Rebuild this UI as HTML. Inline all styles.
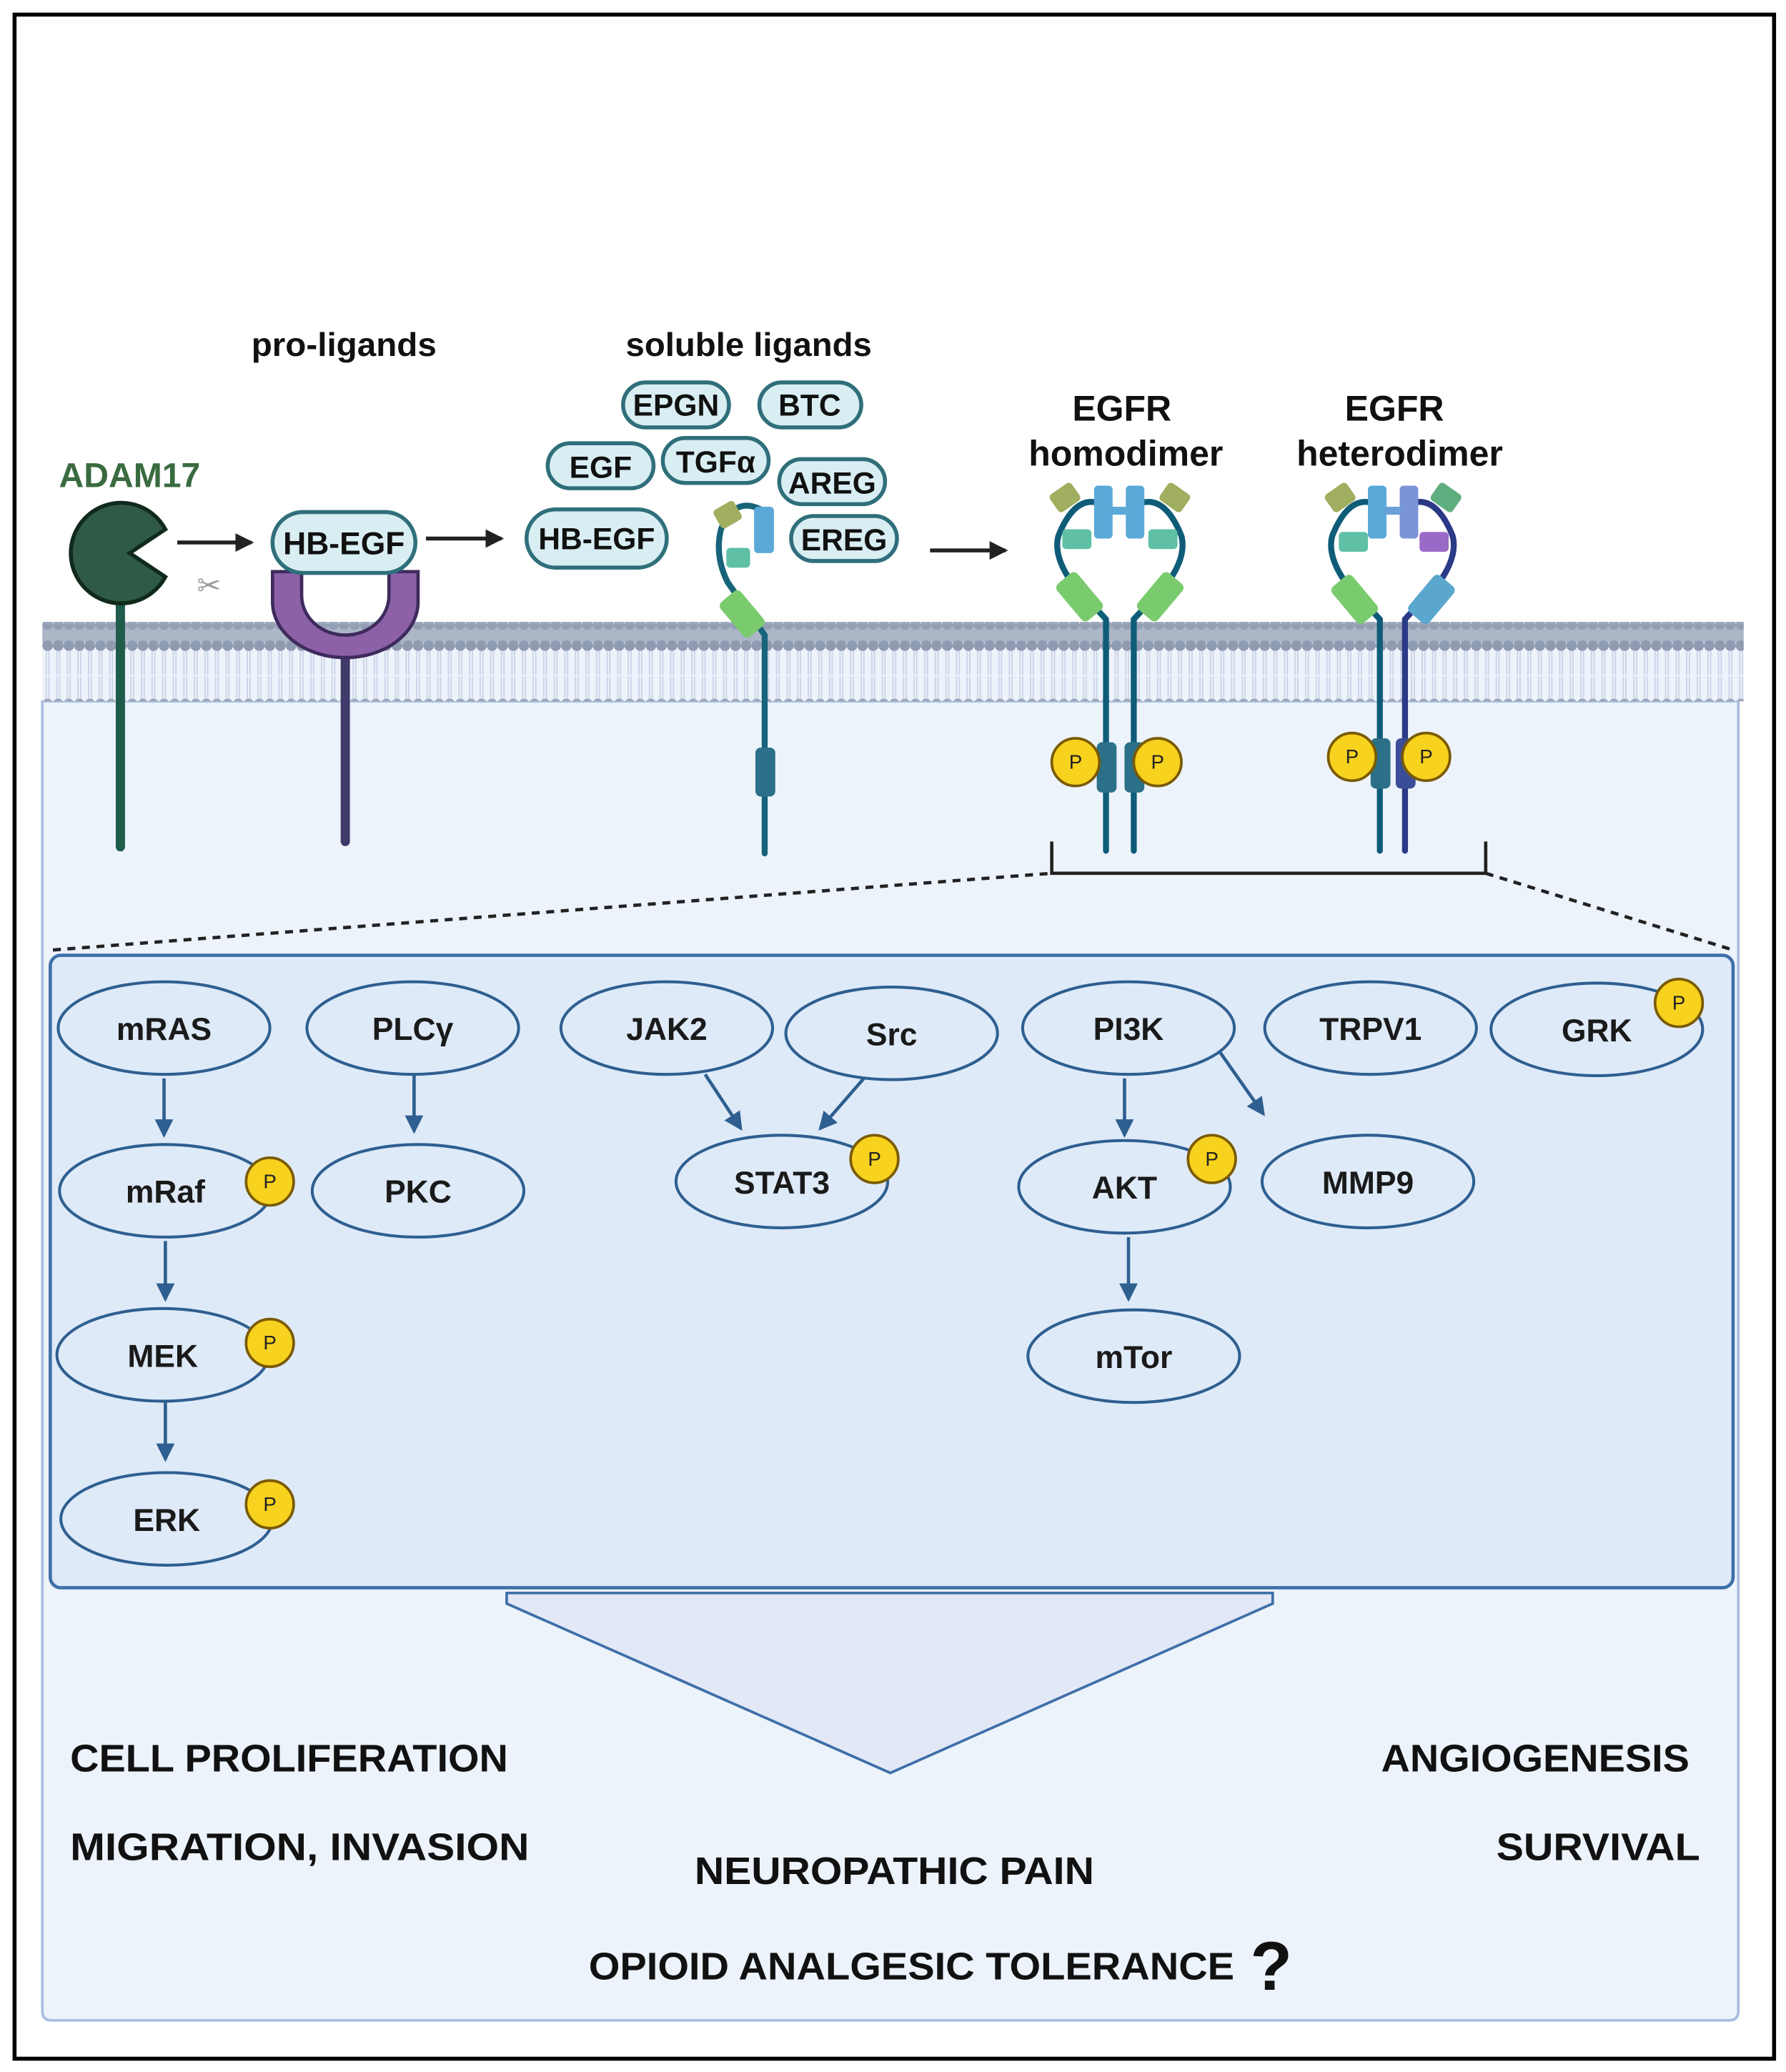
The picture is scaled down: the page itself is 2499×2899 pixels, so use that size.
<!DOCTYPE html>
<html><head><meta charset="utf-8"><style>
html,body{margin:0;padding:0;background:#fff;}
svg{display:block;}
text{font-family:"Liberation Sans",sans-serif;}
</style></head><body>
<svg width="2499" height="2899" viewBox="0 0 1350 1566" xmlns="http://www.w3.org/2000/svg">
<defs>
<marker id="bb" markerWidth="14" markerHeight="14" refX="12" refY="7" orient="auto" markerUnits="userSpaceOnUse"><path d="M0,0 L14,7 L0,14 Z" fill="#2e5f90"/></marker>
<marker id="kb" markerWidth="14" markerHeight="14" refX="12" refY="7" orient="auto" markerUnits="userSpaceOnUse"><path d="M0,0 L14,7 L0,14 Z" fill="#222"/></marker>
<pattern id="lip" width="8" height="60" patternUnits="userSpaceOnUse">
<circle cx="4" cy="8" r="4" fill="#8f9bb0"/><circle cx="4" cy="52" r="4" fill="#9aa6ba"/>
<line x1="3" y1="12" x2="3" y2="30" stroke="#c9d3e6" stroke-width="1"/><line x1="5" y1="12" x2="5" y2="30" stroke="#c9d3e6" stroke-width="1"/>
<line x1="3" y1="31" x2="3" y2="48" stroke="#c9d3e6" stroke-width="1"/><line x1="5" y1="31" x2="5" y2="48" stroke="#c9d3e6" stroke-width="1"/>
</pattern>
</defs>
<rect x="0" y="0" width="1350" height="1566" fill="#fff"/>
<rect x="11" y="11" width="1330" height="1545" fill="#fff" stroke="#000" stroke-width="3"/>
<path d="M32,530 L1314,530 L1314,1520 Q1314,1527 1307,1527 L39,1527 Q32,1527 32,1520 Z" fill="#edf3fb" stroke="#a9bde0" stroke-width="2"/>
<rect x="32" y="470" width="1286" height="60" fill="#eef3fb"/>
<rect x="32" y="470" width="1286" height="60" fill="url(#lip)"/>
<rect x="32" y="472" width="1286" height="14" fill="#8f9bb0" opacity="0.7"/>
<rect x="38" y="722" width="1272" height="478" rx="8" fill="#dfeaf8" stroke="#3e6fa8" stroke-width="2.5"/>
<polygon points="383,1204 962,1204 962,1212 673,1340 383,1212" fill="#e3e8f7" stroke="#3e6fa8" stroke-width="2"/>
<line x1="40" y1="718" x2="795" y2="660" stroke="#222" stroke-width="2.5" stroke-dasharray="6,5"/>
<line x1="1123" y1="660" x2="1310" y2="718" stroke="#222" stroke-width="2.5" stroke-dasharray="6,5"/>
<path d="M795,636 L795,660 L1123,660 L1123,636" fill="none" stroke="#222" stroke-width="2.5"/>

<text x="260" y="269" font-size="25" font-weight="bold" text-anchor="middle" fill="#111" textLength="140" lengthAdjust="spacingAndGlyphs">pro-ligands</text>
<text x="566" y="269" font-size="25" font-weight="bold" text-anchor="middle" fill="#111" textLength="186" lengthAdjust="spacingAndGlyphs">soluble ligands</text>
<text x="98" y="368" font-size="26" font-weight="bold" text-anchor="middle" fill="#3a6b3f">ADAM17</text>
<text x="848" y="318" font-size="27" font-weight="bold" text-anchor="middle" fill="#111">EGFR</text>
<text x="851" y="352" font-size="27" font-weight="bold" text-anchor="middle" fill="#111">homodimer</text>
<text x="1054" y="318" font-size="27" font-weight="bold" text-anchor="middle" fill="#111">EGFR</text>
<text x="1058" y="352" font-size="27" font-weight="bold" text-anchor="middle" fill="#111">heterodimer</text>

<line x1="91" y1="450" x2="91" y2="640" stroke="#1f5c4c" stroke-width="7" stroke-linecap="round"/>
<path d="M125,400 A38,38 0 1,0 125,436 L98,418 Z" fill="#2f5a47" stroke="#102a1c" stroke-width="3"/>
<text x="158" y="450" font-size="22" text-anchor="middle" fill="#999">✂</text>
<line x1="134" y1="410" x2="190" y2="410" stroke="#222" stroke-width="3" marker-end="url(#kb)"/>
<line x1="322" y1="407" x2="379" y2="407" stroke="#222" stroke-width="3" marker-end="url(#kb)"/>
<line x1="703" y1="416" x2="760" y2="416" stroke="#222" stroke-width="3" marker-end="url(#kb)"/>

<line x1="261" y1="490" x2="261" y2="636" stroke="#3f3a6a" stroke-width="7" stroke-linecap="round"/>
<path d="M206,432 L206,455 A55,42 0 0,0 316,455 L316,432 L294,432 L294,450 A33,30 0 0,1 228,450 L228,432 Z" fill="#8c61a8" stroke="#3e2a5c" stroke-width="2.5"/>
<rect x="206" y="387" width="108" height="46" rx="23" fill="#d9eef3" stroke="#2f6f7a" stroke-width="3"/>
<text x="260" y="419" font-size="24" font-weight="bold" text-anchor="middle" fill="#111">HB-EGF</text>

<g font-size="23" font-weight="bold" text-anchor="middle" fill="#111" stroke="#2f6f7a" stroke-width="3">
<rect x="471" y="289" width="80" height="34" rx="17" fill="#d9eef3"/>
<rect x="574" y="289" width="77" height="34" rx="17" fill="#d9eef3"/>
<rect x="414" y="335" width="80" height="34" rx="17" fill="#d9eef3"/>
<rect x="501" y="331" width="80" height="34" rx="17" fill="#d9eef3"/>
<rect x="589" y="347" width="80" height="34" rx="17" fill="#d9eef3"/>
<rect x="398" y="385" width="106" height="44" rx="22" fill="#d9eef3"/>
<rect x="598" y="390" width="80" height="34" rx="17" fill="#d9eef3"/>
</g>
<g font-size="23" font-weight="bold" text-anchor="middle" fill="#111">
<text x="511" y="314">EPGN</text><text x="612" y="314">BTC</text>
<text x="454" y="361">EGF</text><text x="541" y="357">TGFα</text>
<text x="629" y="373">AREG</text><text x="451" y="415">HB-EGF</text>
<text x="638" y="416">EREG</text>
</g>

<path d="M578,645 L578,480 L550,440 Q540,420 545,400 Q555,375 575,385" fill="none" stroke="#17637a" stroke-width="4.5" stroke-linecap="round"/>
<rect x="571" y="565" width="15" height="37" rx="4" fill="#2b7088"/>
<rect x="570" y="383" width="15" height="35" rx="3" fill="#5aa9d8"/>
<rect x="541" y="381" width="18" height="16" rx="3" fill="#a0ae5f" transform="rotate(-30 550 389)"/>
<rect x="549" y="414" width="18" height="15" rx="3" fill="#5fc0a6"/>
<rect x="551" y="447" width="20" height="34" rx="4" fill="#7acb6e" transform="rotate(-40 561 464)"/>

<g stroke-linecap="round" fill="none" stroke-width="4.5">
<path d="M836,643 L836,468 L810,440 Q796,420 800,405 Q812,375 830,380" stroke="#0f5c78"/>
<path d="M857,643 L857,468 L883,440 Q897,420 893,405 Q881,375 863,380" stroke="#0f5c78"/>
<path d="M1043,643 L1043,468 L1017,440 Q1003,420 1007,405 Q1019,375 1037,380" stroke="#0f5c78"/>
<path d="M1062,643 L1062,468 L1088,440 Q1102,420 1098,405 Q1086,375 1068,380" stroke="#2b3a86"/>
</g>
<rect x="829" y="561" width="15" height="38" rx="4" fill="#2b7088"/>
<rect x="850" y="561" width="15" height="38" rx="4" fill="#2b7088"/>
<rect x="1036" y="558" width="15" height="38" rx="4" fill="#2b7088"/>
<rect x="1055" y="558" width="15" height="38" rx="4" fill="#3b4d96"/>
<rect x="827" y="367" width="14" height="40" rx="3" fill="#5aa9d8"/><rect x="851" y="367" width="14" height="40" rx="3" fill="#5aa9d8"/><rect x="840" y="383" width="12" height="6" fill="#5aa9d8"/>
<rect x="795" y="368" width="20" height="16" rx="3" fill="#a0ae5f" transform="rotate(-35 805 376)"/>
<rect x="878" y="368" width="20" height="16" rx="3" fill="#a0ae5f" transform="rotate(35 888 376)"/>
<rect x="803" y="400" width="22" height="15" rx="3" fill="#5fc0a6"/><rect x="868" y="400" width="22" height="15" rx="3" fill="#5fc0a6"/>
<rect x="806" y="433" width="20" height="36" rx="4" fill="#7acb6e" transform="rotate(-40 816 451)"/>
<rect x="867" y="433" width="20" height="36" rx="4" fill="#7acb6e" transform="rotate(40 877 451)"/>
<rect x="1034" y="367" width="14" height="40" rx="3" fill="#5aa9d8"/><rect x="1058" y="367" width="14" height="40" rx="3" fill="#7b94d8"/><rect x="1047" y="383" width="12" height="6" fill="#6a9fd8"/>
<rect x="1003" y="368" width="20" height="16" rx="3" fill="#a0ae5f" transform="rotate(-35 1013 376)"/>
<rect x="1083" y="368" width="20" height="16" rx="3" fill="#5fae80" transform="rotate(35 1093 376)"/>
<rect x="1012" y="402" width="22" height="15" rx="3" fill="#5fc0a6"/><rect x="1073" y="402" width="22" height="15" rx="3" fill="#9a6ac8"/>
<rect x="1014" y="435" width="20" height="36" rx="4" fill="#7acb6e" transform="rotate(-40 1024 453)"/>
<rect x="1072" y="435" width="20" height="36" rx="4" fill="#5aa6cc" transform="rotate(40 1082 453)"/>
<g font-size="15" text-anchor="middle" fill="#222">
<circle cx="813" cy="576" r="18" fill="#f7d21e" stroke="#7a5a00" stroke-width="2"/><text x="813" y="581">P</text>
<circle cx="875" cy="576" r="18" fill="#f7d21e" stroke="#7a5a00" stroke-width="2"/><text x="875" y="581">P</text>
<circle cx="1022" cy="572" r="18" fill="#f7d21e" stroke="#7a5a00" stroke-width="2"/><text x="1022" y="577">P</text>
<circle cx="1078" cy="572" r="18" fill="#f7d21e" stroke="#7a5a00" stroke-width="2"/><text x="1078" y="577">P</text>
</g>

<g fill="#dfeaf8" stroke="#2e5f90" stroke-width="2.2">
<ellipse cx="124" cy="777" rx="80" ry="35"/><ellipse cx="312" cy="777" rx="80" ry="35"/>
<ellipse cx="504" cy="777" rx="80" ry="35"/><ellipse cx="674" cy="781" rx="80" ry="35"/>
<ellipse cx="853" cy="777" rx="80" ry="35"/><ellipse cx="1036" cy="777" rx="80" ry="35"/>
<ellipse cx="1207" cy="778" rx="80" ry="35"/>
<ellipse cx="125" cy="900" rx="80" ry="35"/><ellipse cx="316" cy="900" rx="80" ry="35"/>
<ellipse cx="591" cy="893" rx="80" ry="35"/><ellipse cx="850" cy="897" rx="80" ry="35"/>
<ellipse cx="1034" cy="893" rx="80" ry="35"/>
<ellipse cx="123" cy="1024" rx="80" ry="35"/><ellipse cx="857" cy="1025" rx="80" ry="35"/>
<ellipse cx="126" cy="1148" rx="80" ry="35"/>
</g>
<g font-size="24" font-weight="bold" text-anchor="middle" fill="#1a1a1a">
<text x="124" y="786">mRAS</text><text x="312" y="786">PLCγ</text>
<text x="504" y="786">JAK2</text><text x="674" y="790">Src</text>
<text x="853" y="786">PI3K</text><text x="1036" y="786">TRPV1</text>
<text x="1207" y="787">GRK</text>
<text x="125" y="909">mRaf</text><text x="316" y="909">PKC</text>
<text x="591" y="902">STAT3</text><text x="850" y="906">AKT</text>
<text x="1034" y="902">MMP9</text>
<text x="123" y="1033">MEK</text><text x="857" y="1034">mTor</text>
<text x="126" y="1157">ERK</text>
</g>
<g stroke="#2e5f90" stroke-width="2.5">
<line x1="124" y1="815" x2="124" y2="858" marker-end="url(#bb)"/>
<line x1="313" y1="813" x2="313" y2="855" marker-end="url(#bb)"/>
<line x1="125" y1="938" x2="125" y2="982" marker-end="url(#bb)"/>
<line x1="125" y1="1060" x2="125" y2="1103" marker-end="url(#bb)"/>
<line x1="533" y1="812" x2="560" y2="853" marker-end="url(#bb)"/>
<line x1="653" y1="815" x2="620" y2="853" marker-end="url(#bb)"/>
<line x1="850" y1="815" x2="850" y2="858" marker-end="url(#bb)"/>
<line x1="922" y1="795" x2="955" y2="842" marker-end="url(#bb)"/>
<line x1="853" y1="935" x2="853" y2="982" marker-end="url(#bb)"/>
</g>
<g font-size="15" text-anchor="middle" fill="#222">
<circle cx="1269" cy="758" r="18" fill="#f7d21e" stroke="#7a5a00" stroke-width="2"/><text x="1269" y="763">P</text>
<circle cx="204" cy="893" r="18" fill="#f7d21e" stroke="#7a5a00" stroke-width="2"/><text x="204" y="898">P</text>
<circle cx="661" cy="876" r="18" fill="#f7d21e" stroke="#7a5a00" stroke-width="2"/><text x="661" y="881">P</text>
<circle cx="916" cy="876" r="18" fill="#f7d21e" stroke="#7a5a00" stroke-width="2"/><text x="916" y="881">P</text>
<circle cx="204" cy="1015" r="18" fill="#f7d21e" stroke="#7a5a00" stroke-width="2"/><text x="204" y="1020">P</text>
<circle cx="204" cy="1137" r="18" fill="#f7d21e" stroke="#7a5a00" stroke-width="2"/><text x="204" y="1142">P</text>
</g>

<g font-size="29" font-weight="bold" fill="#111">
<text x="53" y="1339" textLength="331" lengthAdjust="spacingAndGlyphs">CELL PROLIFERATION</text>
<text x="53" y="1406" textLength="347" lengthAdjust="spacingAndGlyphs">MIGRATION, INVASION</text>
<text x="1044" y="1339" textLength="233" lengthAdjust="spacingAndGlyphs">ANGIOGENESIS</text>
<text x="1131" y="1406" textLength="154" lengthAdjust="spacingAndGlyphs">SURVIVAL</text>
<text x="525" y="1424" textLength="302" lengthAdjust="spacingAndGlyphs">NEUROPATHIC PAIN</text>
<text x="445" y="1496" textLength="488" lengthAdjust="spacingAndGlyphs">OPIOID ANALGESIC TOLERANCE</text>
<text x="945" y="1504" font-size="52">?</text>
</g>
</svg>
</body></html>
